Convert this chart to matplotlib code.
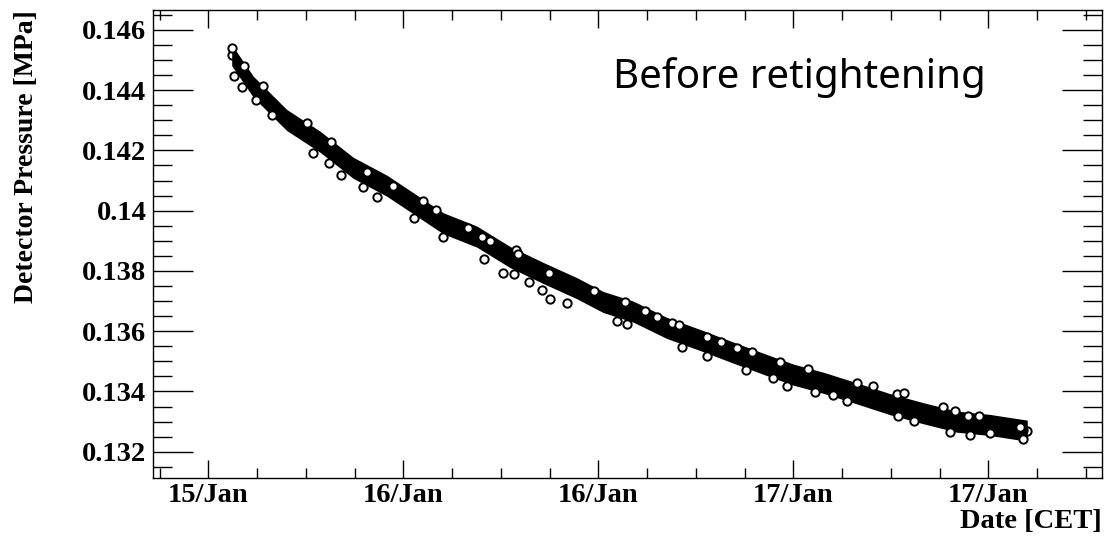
import matplotlib
matplotlib.use("Agg")
import matplotlib.pyplot as plt
import numpy as np

# time in hours since 15/Jan 12:00 (CET)
center_hours = [1.44, 2.77, 4.82, 6.87, 8.92, 10.98, 12.6, 14.46, 16.52, 18.57,
                20.62, 22.67, 24.3, 26.15, 28.21, 30.26, 32.31, 34.36, 36.0, 37.85,
                39.9, 41.95, 44.0, 46.06, 48.1, 50.15, 50.4]
center_pressure = [0.14516, 0.14411, 0.14301, 0.14229, 0.14142, 0.14083, 0.14025, 0.13958,
                   0.13914, 0.13846, 0.13793, 0.13743, 0.13697, 0.13665, 0.13611, 0.13571,
                   0.13529, 0.13488, 0.13456, 0.13429, 0.13394, 0.13358, 0.13328, 0.13300,
                   0.13289, 0.13272, 0.13270]
band_halfwidth = 0.00035

outlier_hours = [1.48, 2.22, 1.60, 2.09, 3.35, 3.94, 6.06, 7.55, 6.46, 7.45, 8.15, 9.75,
                 11.38, 9.54, 10.36, 2.94, 13.23, 13.99, 14.46, 12.66, 15.96, 16.86, 17.34,
                 16.97, 18.94, 19.08, 18.15, 18.81, 19.75, 20.98, 20.52, 21.03, 22.06, 23.75,
                 25.64, 25.17, 25.78, 26.87, 27.59, 28.52, 28.97, 29.13, 30.67, 30.67, 31.53,
                 32.52, 33.07, 33.44, 35.18, 35.59, 34.77, 36.92, 39.90, 40.92, 37.34, 38.46,
                 39.29, 42.36, 42.83, 42.46, 43.43, 45.23, 45.95, 46.77, 47.45, 46.87, 48.10,
                 45.64, 50.15, 49.95]
outlier_pressure = [0.14541, 0.14481, 0.14448, 0.14409, 0.14415, 0.14317, 0.14290, 0.14227,
                    0.14192, 0.14159, 0.14118, 0.14129, 0.14083, 0.14079, 0.14046, 0.14367,
                    0.14033, 0.14002, 0.13914, 0.13975, 0.13941, 0.13914, 0.13899, 0.13840,
                    0.13869, 0.13855, 0.13792, 0.13790, 0.13764, 0.13792, 0.13737, 0.13706,
                    0.13693, 0.13734, 0.13698, 0.13635, 0.13624, 0.13668, 0.13648, 0.13626,
                    0.13621, 0.13549, 0.13582, 0.13518, 0.13563, 0.13543, 0.13471, 0.13532,
                    0.13499, 0.13418, 0.13444, 0.13474, 0.13429, 0.13419, 0.13399, 0.13388,
                    0.13368, 0.13391, 0.13396, 0.13319, 0.13303, 0.13347, 0.13335, 0.13319,
                    0.13320, 0.13256, 0.13261, 0.13266, 0.13241, 0.13283]

x_tick_hours = [0, 12, 24, 36, 48]
x_tick_labels = ["15/Jan", "16/Jan", "16/Jan", "17/Jan", "17/Jan"]
y_ticks = [0.132, 0.134, 0.136, 0.138, 0.140, 0.142, 0.144, 0.146]
y_tick_labels = ["0.132", "0.134", "0.136", "0.138", "0.14", "0.142", "0.144", "0.146"]

W, H = 1107, 538
fig = plt.figure(figsize=(W / 100, H / 100), dpi=100)
ax = fig.add_axes([153.3 / W, 1 - 477.7 / H, (1102 - 153.3) / W, (477.7 - 9.6) / H])

ch = np.array(center_hours)
cp = np.array(center_pressure)
ax.fill_between(ch, cp - band_halfwidth, cp + band_halfwidth, color="black", lw=0)
ax.plot(ch, cp, "o", mfc="none", mec="black", ms=6, mew=1.4, ls="none")
ax.plot(outlier_hours, outlier_pressure, "o", mfc="white", mec="black", ms=6, mew=1.4, ls="none")

ax.set_xlim(-3.385, 55.0)
ax.set_ylim(0.13114, 0.14667)

serif = "Liberation Serif"
ax.set_xticks(x_tick_hours)
ax.set_xticklabels(x_tick_labels, fontfamily=serif, fontweight="bold", fontsize=20.5)
ax.set_xticks(np.arange(-3, 55, 3), minor=True)
ax.set_yticks(y_ticks)
ax.set_yticklabels(y_tick_labels, fontfamily=serif, fontweight="bold", fontsize=20.5)
ax.set_yticks(np.arange(0.1315, 0.1467, 0.0005), minor=True)

ax.tick_params(axis="x", which="major", direction="in", length=13, width=1, top=True, pad=4)
ax.tick_params(axis="x", which="minor", direction="in", length=7, width=1, top=True)
ax.tick_params(axis="y", which="major", direction="in", length=29, width=1, right=True, pad=5)
ax.tick_params(axis="y", which="minor", direction="in", length=14, width=1, right=True)
for s in ax.spines.values():
    s.set_linewidth(1.0)

fig.text(1102 / W, 1 - 522 / H, "Date [CET]", ha="right", va="center",
         fontfamily=serif, fontweight="bold", fontsize=20.5)
fig.text(27 / W, 1 - 10 / H, "Detector Pressure [MPa]", ha="center", va="top", rotation=90,
         fontfamily=serif, fontweight="bold", fontsize=20)
fig.text(613 / W, 1 - 88 / H, "Before retightening", ha="left", va="baseline",
         fontfamily="Noto Sans", fontsize=29)

fig.savefig("out.png", dpi=100)
